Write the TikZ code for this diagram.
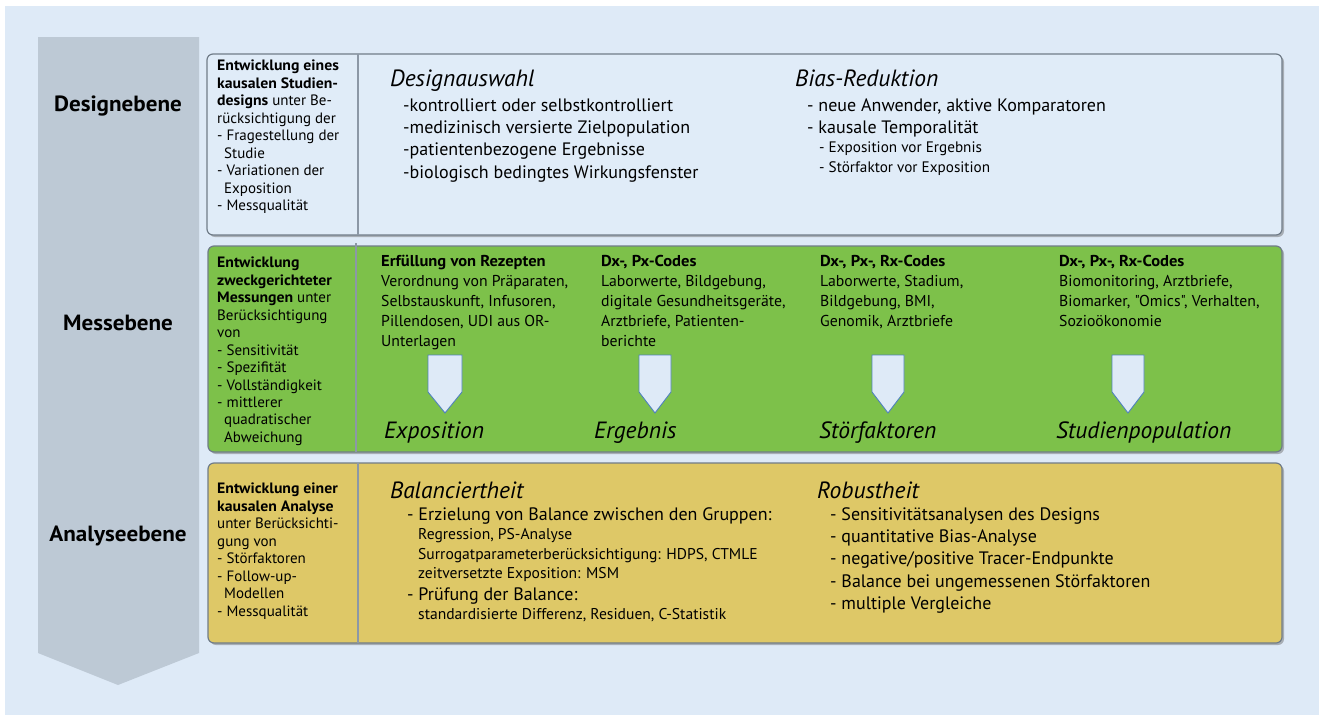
\documentclass[tikz,border=0pt]{standalone}
\usepackage{fontspec}
\setmainfont{PT Sans}[Ligatures=TeXOff, BoldFeatures={FakeStretch=1.05}]
\usetikzlibrary{shadows}
\definecolor{bgblue}{RGB}{222,234,247}
\definecolor{boxblue}{RGB}{224,236,248}
\definecolor{arrowgray}{RGB}{189,201,213}
\definecolor{boxgreen}{RGB}{125,193,74}
\definecolor{boxyellow}{RGB}{222,200,103}
\definecolor{bordergray}{RGB}{112,124,136}
\definecolor{divgray}{RGB}{140,152,166}
\definecolor{smallblue}{RGB}{79,129,189}
\tikzset{
  levelbox/.style={draw=bordergray, line width=1.2pt, rounded corners=6pt, inner sep=0pt,
     drop shadow={shadow xshift=2pt, shadow yshift=-2pt, opacity=0.45, fill=black!60}},
  divider/.style={draw=divgray, line width=1.5pt},
  lvl/.style={font=\fontsize{22}{26}\selectfont\bfseries, anchor=base, inner sep=0pt},
  lefttxt/.style={font=\fontsize{15}{17.45}\selectfont, align=left, anchor=north west, inner sep=0pt},
  head/.style={font=\fontsize{23.5}{27}\selectfont\itshape, anchor=base west, inner sep=0pt},
  bigtxt/.style={font=\fontsize{18}{22.2}\selectfont, align=left, anchor=north west, inner sep=0pt},
  smalltxt/.style={font=\fontsize{15.2}{19.3}\selectfont, align=left, anchor=north west, inner sep=0pt},
  smalltxtb/.style={font=\fontsize{15.6}{19.3}\selectfont, align=left, anchor=north west, inner sep=0pt},
  coltxt/.style={font=\fontsize{15.75}{20}\selectfont, align=left, anchor=north west, inner sep=0pt},
  downarrow/.style={draw=smallblue, fill=bgblue, line width=0.9pt, line join=miter},
}
\begin{document}
\begin{tikzpicture}[x=1pt,y=-1pt]
\useasboundingbox (0,0) rectangle (1319,715);
\fill[white] (0,0) rectangle (1319,715);
\fill[bgblue] (5,6) rectangle (1319,715);
% big gray arrow
\fill[arrowgray] (38,37) -- (199,37) -- (199,653) -- (118,685) -- (38,653) -- cycle;

% level boxes
\node[levelbox, fill=boxblue, minimum width=1075pt, minimum height=181pt] (design) at (744.5,144.5) {};
\node[levelbox, fill=boxgreen, minimum width=1074pt, minimum height=206pt] (mess) at (745,349) {};
\node[levelbox, fill=boxyellow, minimum width=1074pt, minimum height=180pt] (analyse) at (745,553) {};
\draw[divider] (358,54) -- (358,235);
\draw[divider] (356,243) -- (356,452);
\draw[divider] (358,463) -- (358,643);

% level labels
\node[lvl] (l1) at (118,111) {Designebene};
\node[lvl] (l2) at (118,330) {Messebene};
\node[lvl] (l3) at (118,541) {Analyseebene};

% design level
\node[lefttxt] (d0) at (217,60) {\textbf{Entwicklung eines}\\\textbf{kausalen Studien-}\\\textbf{designs} unter Be-\\rücksichtigung der\\- Fragestellung der\\\hspace*{7pt}Studie\\- Variationen der\\\hspace*{7pt}Exposition\\- Messqualität};
\node[head] (d1h) at (390,86) {Designauswahl};
\node[bigtxt] (d1) at (403,98.5) {-kontrolliert oder selbstkontrolliert\\-medizinisch versierte Zielpopulation\\-patientenbezogene Ergebnisse\\-biologisch bedingtes Wirkungsfenster};
\node[head] (d2h) at (795,86) {Bias-Reduktion};
\node[bigtxt] (d2) at (807,98.5) {- neue Anwender, aktive Komparatoren\\- kausale Temporalität};
\node[smalltxt] (d3) at (819,142) {- Exposition vor Ergebnis\\- Störfaktor vor Exposition};

% measurement level
\node[lefttxt] (m0) at (217,257) {\textbf{Entwicklung}\\\textbf{zweckgerichteter}\\\textbf{Messungen} unter\\Berücksichtigung\\von\\- Sensitivität\\- Spezifität\\- Vollständigkeit\\- mittlerer\\\hspace*{7pt}quadratischer\\\hspace*{7pt}Abweichung};
\node[coltxt] (c1) at (381,255) {\textbf{Erfüllung von Rezepten}\\Verordnung von Präparaten,\\Selbstauskunft, Infusoren,\\Pillendosen, UDI aus OR-\\Unterlagen};
\node[coltxt] (c2) at (601,255) {\textbf{Dx-, Px-Codes}\\Laborwerte, Bildgebung,\\digitale Gesundheitsgeräte,\\Arztbriefe, Patienten-\\berichte};
\node[coltxt] (c3) at (820,255) {\textbf{Dx-, Px-, Rx-Codes}\\Laborwerte, Stadium,\\Bildgebung, BMI,\\Genomik, Arztbriefe};
\node[coltxt] (c4) at (1059,255) {\textbf{Dx-, Px-, Rx-Codes}\\Biomonitoring, Arztbriefe,\\Biomarker, "Omics", Verhalten,\\Sozioökonomie};
\draw[downarrow] (428,355) -- (462,355) -- (462,392) -- (445,413) -- (428,392) -- cycle;
\draw[downarrow] (639,355) -- (671,355) -- (671,392) -- (655,413) -- (639,392) -- cycle;
\draw[downarrow] (872,355) -- (904,355) -- (904,392) -- (888,413) -- (872,392) -- cycle;
\draw[downarrow] (1112,355) -- (1144,355) -- (1144,392) -- (1128,413) -- (1112,392) -- cycle;
\node[head] (e1) at (384,438) {Exposition};
\node[head] (e2) at (594,438) {Ergebnis};
\node[head] (e3) at (819,438) {Störfaktoren};
\node[head] (e4) at (1056,438) {Studienpopulation};

% analysis level
\node[lefttxt] (a0) at (217,483) {\textbf{Entwicklung einer}\\\textbf{kausalen Analyse}\\unter Berücksichti-\\gung von\\- Störfaktoren\\- Follow-up-\\\hspace*{7pt}Modellen\\- Messqualität};
\node[head] (b1h) at (390,498) {Balanciertheit};
\node[bigtxt] (b1) at (407,507.5) {- Erzielung von Balance zwischen den Gruppen:};
\node[smalltxtb] (b2) at (418,528.5) {Regression, PS-Analyse\\Surrogatparameterberücksichtigung: HDPS, CTMLE\\zeitversetzte Exposition: MSM};
\node[bigtxt] (b3) at (407,587.5) {- Prüfung der Balance:};
\node[smalltxtb] (b4) at (418,608.5) {standardisierte Differenz, Residuen, C-Statistik};
\node[head] (r1h) at (817,498) {Robustheit};
\node[bigtxt] (r1) at (830,507.5) {- Sensitivitätsanalysen des Designs\\- quantitative Bias-Analyse\\- negative/positive Tracer-Endpunkte\\- Balance bei ungemessenen Störfaktoren\\- multiple Vergleiche};
\end{tikzpicture}
\end{document}
